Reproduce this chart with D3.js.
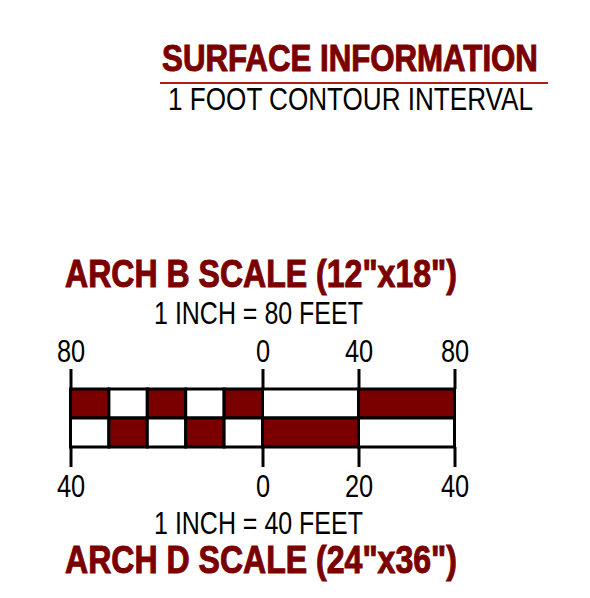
<!DOCTYPE html>
<html>
<head>
<meta charset="utf-8">
<script src="https://cdn.jsdelivr.net/npm/d3@7"></script>
<style>
  body { margin: 0; background: #fff; }
  text { font-family: "Liberation Sans Narrow", "Arial Narrow", "Liberation Sans", sans-serif; }
</style>
</head>
<body>
<div id="scale"></div>
<script>
// scale bar data (feet)
var topBreaks = [-80, -64, -48, -32, -16, 0, 40, 80];
var topFill = [1, 0, 1, 0, 1, 0, 1];
var topTicks = [-80, 0, 40, 80];

var bottomBreaks = [-40, -32, -24, -16, -8, 0, 20, 40];
var bottomFill = [0, 1, 0, 1, 0, 1, 0];
var bottomTicks = [-40, 0, 20, 40];

var titles = ["SURFACE INFORMATION", "ARCH B SCALE (12\"x18\")", "ARCH D SCALE (24\"x36\")"];
var subtitles = ["1 FOOT CONTOUR INTERVAL", "1 INCH = 80 FEET", "1 INCH = 40 FEET"];

var red = "#7a0000";
var width = 590, height = 598;

var svg = d3.select("#scale")
    .append("svg")
    .attr("width", width)
    .attr("height", height);

// no narrow font here, so squeeze the text horizontally to the wanted width
function squeeze(sel, x, y, len) {
    var w = sel.node().getComputedTextLength();
    var k = Math.min(1, len / w);
    sel.attr("x", 0).attr("y", 0)
        .attr("transform", "translate(" + x + "," + y + ") scale(" + k + ",1)");
}

function heading(txt, x, y, size, len) {
    var t = svg.append("text")
        .attr("text-anchor", "middle")
        .attr("font-weight", "bold")
        .attr("font-size", size)
        .attr("fill", red)
        .attr("stroke", red)
        .attr("stroke-width", 1)
        .text(txt);
    squeeze(t, x, y, len);
}

function plain(txt, x, y, len) {
    var t = svg.append("text")
        .attr("text-anchor", "middle")
        .attr("font-size", 31)
        .attr("fill", "#000")
        .text(txt);
    squeeze(t, x, y, len);
}

// header
heading(titles[0], 350, 71, 36, 376);

svg.append("line")
    .attr("x1", 160).attr("x2", 548)
    .attr("y1", 83).attr("y2", 83)
    .attr("stroke", "#a82020")
    .attr("stroke-width", 2);

plain(subtitles[0], 350.5, 110, 365);

// scale titles
heading(titles[1], 261, 287, 38, 392);
plain(subtitles[1], 258.5, 324, 209);
plain(subtitles[2], 258.5, 534, 209);
heading(titles[2], 261, 573, 38, 392);

// scales
var xTop = d3.scaleLinear().domain([-80, 80]).range([70.5, 454.5]);
var xBot = d3.scaleLinear().domain([-40, 40]).range([70.5, 454.5]);

var barTop = 389, rowH = 29;

function segs(breaks, fill) {
    var out = [];
    for (var i = 0; i < fill.length; i++) {
        out.push({ a: breaks[i], b: breaks[i + 1], f: fill[i] });
    }
    return out;
}

// top row
svg.append("g").selectAll("rect")
    .data(segs(topBreaks, topFill))
    .enter().append("rect")
    .attr("x", function (d) { return xTop(d.a); })
    .attr("y", barTop)
    .attr("width", function (d) { return xTop(d.b) - xTop(d.a); })
    .attr("height", rowH)
    .attr("fill", function (d) { return d.f ? red : "#fff"; })
    .attr("stroke", "#000")
    .attr("stroke-width", 3);

// bottom row
svg.append("g").selectAll("rect")
    .data(segs(bottomBreaks, bottomFill))
    .enter().append("rect")
    .attr("x", function (d) { return xBot(d.a); })
    .attr("y", barTop + rowH)
    .attr("width", function (d) { return xBot(d.b) - xBot(d.a); })
    .attr("height", rowH)
    .attr("fill", function (d) { return d.f ? red : "#fff"; })
    .attr("stroke", "#000")
    .attr("stroke-width", 3);

// axes
var fmt = function (d) { return Math.abs(d); };

var axTop = svg.append("g")
    .attr("transform", "translate(0," + barTop + ")")
    .call(d3.axisTop(xTop).tickValues(topTicks).tickFormat(fmt).tickSize(20).tickPadding(7));

var axBot = svg.append("g")
    .attr("transform", "translate(0," + (barTop + 2 * rowH) + ")")
    .call(d3.axisBottom(xBot).tickValues(bottomTicks).tickFormat(fmt).tickSize(20).tickPadding(8));

[axTop, axBot].forEach(function (ax) {
    ax.select(".domain").remove();
    ax.selectAll(".tick line").attr("stroke", "#000").attr("stroke-width", 3);
    ax.selectAll(".tick text")
        .attr("fill", "#000")
        .attr("font-size", 31)
        .attr("font-family", "'Liberation Sans Narrow', 'Arial Narrow', 'Liberation Sans', sans-serif")
        .attr("transform", "scale(0.82,1)")
        .attr("x", 0);
});

// major lines run through the bar
svg.append("g").selectAll("line")
    .data(topTicks)
    .enter().append("line")
    .attr("x1", function (d) { return xTop(d); })
    .attr("x2", function (d) { return xTop(d); })
    .attr("y1", barTop)
    .attr("y2", barTop + 2 * rowH)
    .attr("stroke", "#000")
    .attr("stroke-width", 3);
</script>
</body>
</html>
